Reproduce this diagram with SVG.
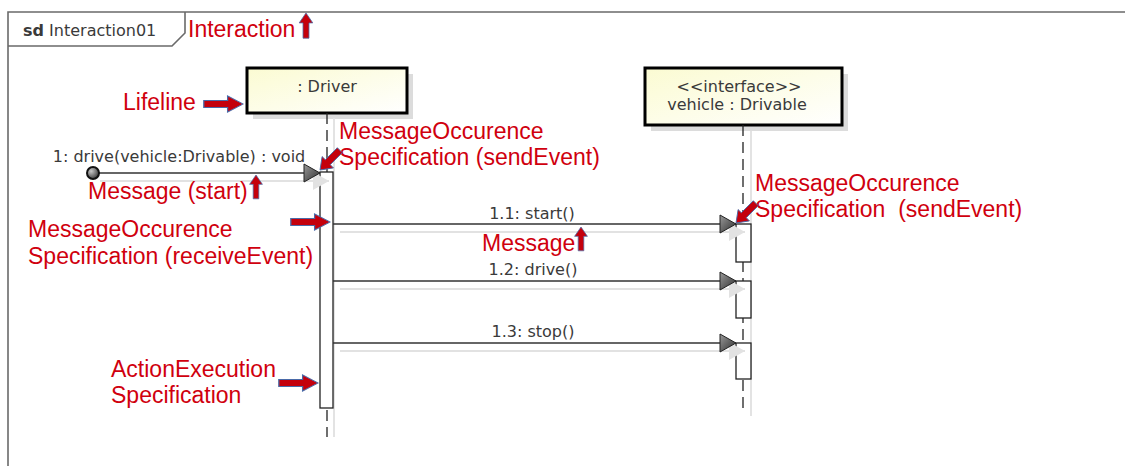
<svg xmlns="http://www.w3.org/2000/svg" width="1125" height="466" viewBox="0 0 1125 466">
  <defs>
    <linearGradient id="boxFill" x1="0" y1="0" x2="1" y2="1">
      <stop offset="0" stop-color="#fbfbd2"/>
      <stop offset="1" stop-color="#ffffff"/>
    </linearGradient>
    <linearGradient id="headFill" x1="0" y1="0" x2="1" y2="1">
      <stop offset="0" stop-color="#9a9a9a"/>
      <stop offset="1" stop-color="#2e2e2e"/>
    </linearGradient>
    <radialGradient id="dotFill" cx="0.35" cy="0.35" r="0.7">
      <stop offset="0" stop-color="#c8c8c8"/>
      <stop offset="1" stop-color="#3a3a3a"/>
    </radialGradient>
    <!-- filled triangular head used for every synchronous message -->
    <marker id="msgHead" markerWidth="18" markerHeight="20" refX="17" refY="10" orient="auto" markerUnits="userSpaceOnUse">
      <polygon points="1,1 17,10 1,19" fill="url(#headFill)" stroke="#222" stroke-width="1"/>
    </marker>
    <marker id="msgHeadShadow" markerWidth="18" markerHeight="20" refX="17" refY="10" orient="auto" markerUnits="userSpaceOnUse">
      <polygon points="1,1 17,10 1,19" fill="#e2e2e2"/>
    </marker>
    <!-- block arrow, tip at the origin, pointing along +x -->
    <polygon id="blockArrow" points="-28,-3.5 -11,-3.5 -11,-8 0,0 -11,8 -11,3.5 -28,3.5"/>
  </defs>
  <style>
    .frame { fill: none; stroke: #6a6a6a; stroke-width: 1.6; }
    .txt { font-family: "DejaVu Sans", "Liberation Sans", sans-serif; fill: #3a3a3a; }
    .label { font-size: 16px; }
    .box { fill: url(#boxFill); stroke: #000; stroke-width: 3; }
    .boxShadow { fill: #dcdcdc; }
    .life { stroke: #222; stroke-width: 1.3; stroke-dasharray: 11 6; fill: none; }
    .lifeShadow { stroke: #e3e3e3; stroke-width: 2; fill: none; }
    .exec { fill: #fff; stroke: #222; stroke-width: 1.3; }
    .msg { stroke: #333; stroke-width: 1.6; fill: none; marker-end: url(#msgHead); }
    .msgShadow { stroke: #e2e2e2; stroke-width: 2; fill: none; marker-end: url(#msgHeadShadow); }
    .note { font-family: "Liberation Sans", Arial, sans-serif; font-size: 23px; fill: #d0000e; white-space: pre; }
    .pointer { fill: #c4000c; stroke: #4a6aa8; stroke-width: 0.9; }
  </style>

  <rect width="1125" height="466" fill="#fff"/>

  <!-- interaction frame -->
  <g id="frame">
    <path class="frame" d="M8,466 V12 H1125"/>
    <path class="frame" d="M8,46 H172 L185,33 V12"/>
    <text class="txt label" x="23" y="36" fill="#111"><tspan font-weight="bold">sd</tspan> Interaction01</text>
  </g>

  <!-- lifeline : Driver -->
  <g id="driver">
    <rect class="boxShadow" x="253" y="74" width="160" height="45"/>
    <rect class="box" x="247" y="68" width="160" height="45"/>
    <text class="txt label" x="327" y="92" text-anchor="middle">: Driver</text>
    <line class="lifeShadow" x1="334" y1="118" x2="334" y2="437"/>
    <line class="life" x1="327" y1="113" x2="327" y2="172"/>
    <line class="life" x1="327" y1="410" x2="327" y2="437"/>
    <rect class="exec" x="320" y="172" width="13" height="236"/>
  </g>

  <!-- lifeline vehicle : Drivable -->
  <g id="vehicle">
    <rect class="boxShadow" x="651" y="74" width="197" height="57"/>
    <rect class="box" x="645" y="68" width="197" height="57"/>
    <text class="txt label" x="739" y="92" text-anchor="middle">&lt;&lt;interface&gt;&gt;</text>
    <text class="txt label" x="737" y="110" text-anchor="middle">vehicle : Drivable</text>
    <line class="lifeShadow" x1="751" y1="131" x2="751" y2="416"/>
    <line class="life" x1="743" y1="125" x2="743" y2="412"/>
    <rect class="exec" x="736" y="224" width="15" height="38"/>
    <rect class="exec" x="736" y="281" width="15" height="37"/>
    <rect class="exec" x="736" y="343" width="15" height="36"/>
  </g>

  <!-- messages -->
  <g id="connectors">
    <line class="msgShadow" x1="100" y1="181" x2="329" y2="181"/>
    <line class="msg" x1="93" y1="173" x2="320" y2="173"/>
    <circle cx="93" cy="173" r="6" fill="url(#dotFill)" stroke="#111" stroke-width="2"/>
    <text class="txt label" x="179" y="162" text-anchor="middle">1: drive(vehicle:Drivable) : void</text>

    <line class="msgShadow" x1="340" y1="232" x2="745" y2="232"/>
    <line class="msg" x1="333" y1="224" x2="736" y2="224"/>
    <text class="txt label" x="532" y="219" text-anchor="middle">1.1: start()</text>

    <line class="msgShadow" x1="340" y1="289" x2="745" y2="289"/>
    <line class="msg" x1="333" y1="281" x2="736" y2="281"/>
    <text class="txt label" x="533" y="275" text-anchor="middle">1.2: drive()</text>

    <line class="msgShadow" x1="340" y1="351" x2="745" y2="351"/>
    <line class="msg" x1="333" y1="343" x2="736" y2="343"/>
    <text class="txt label" x="533" y="337" text-anchor="middle">1.3: stop()</text>
  </g>

  <!-- callouts -->
  <g id="annotations">
    <text class="note" x="188" y="37">Interaction</text>
    <use href="#blockArrow" class="pointer" transform="translate(306,13) rotate(-90) scale(0.9,0.85)"/>

    <text class="note" x="123" y="110">Lifeline</text>
    <use href="#blockArrow" class="pointer" transform="translate(243,104) scale(1.4,1)"/>

    <text class="note" x="339" y="139">MessageOccurence</text>
    <text class="note" x="339" y="165">Specification (sendEvent)</text>
    <use href="#blockArrow" class="pointer" transform="translate(320,170) rotate(135)"/>

    <text class="note" x="88" y="199">Message (start)</text>
    <use href="#blockArrow" class="pointer" transform="translate(256,175) rotate(-90) scale(0.85,0.8)"/>

    <text class="note" x="28" y="237">MessageOccurence</text>
    <text class="note" x="28" y="264">Specification (receiveEvent)</text>
    <use href="#blockArrow" class="pointer" transform="translate(330,222) scale(1.4,1)"/>

    <text class="note" x="482" y="251">Message</text>
    <use href="#blockArrow" class="pointer" transform="translate(581,227) rotate(-90) scale(0.85,0.8)"/>

    <text class="note" x="755" y="191">MessageOccurence</text>
    <text class="note" x="755" y="217">Specification  (sendEvent)</text>
    <use href="#blockArrow" class="pointer" transform="translate(736,223) rotate(135)"/>

    <text class="note" x="111" y="377">ActionExecution</text>
    <text class="note" x="111" y="403">Specification</text>
    <use href="#blockArrow" class="pointer" transform="translate(318,383) scale(1.4,1)"/>
  </g>
</svg>
